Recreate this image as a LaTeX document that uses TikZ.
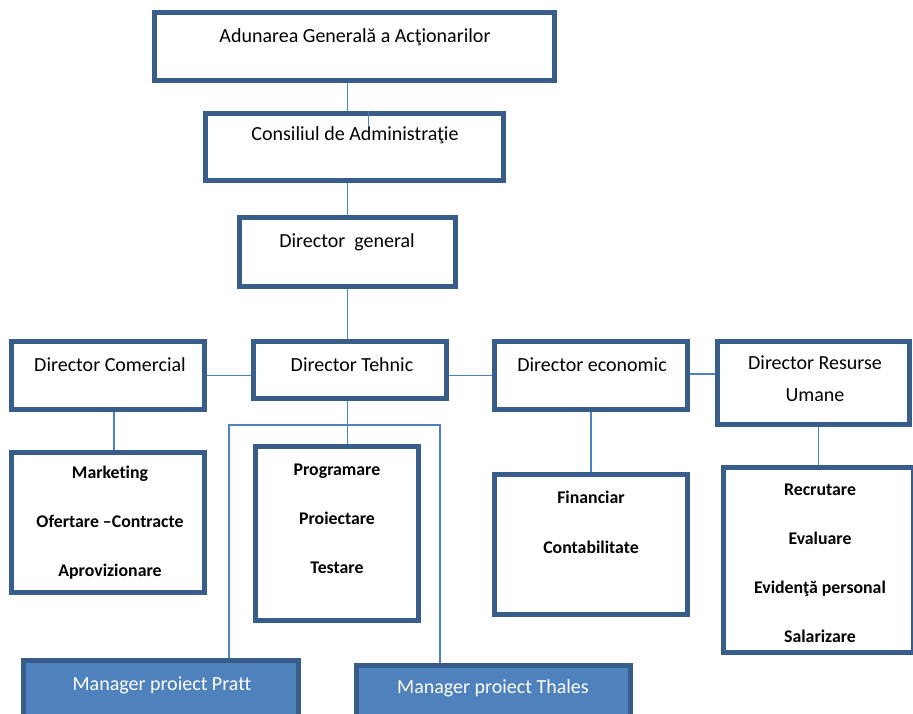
\documentclass[tikz,border=0pt]{standalone}
\usepackage{fontspec}
\setmainfont{Carlito}[Ligatures=CommonOff]
\usetikzlibrary{backgrounds}

\definecolor{frameblue}{RGB}{56,93,138}
\definecolor{lineblue}{RGB}{79,129,189}

\tikzset{
  unit/.style={draw=frameblue, line width=5pt, fill=white, inner sep=0pt},
  project/.style={unit, fill=lineblue},
  title/.style={font=\fontsize{20}{24}\selectfont, inner sep=0pt},
  tasks/.style={font=\fontsize{17.8}{49}\selectfont\bfseries, align=center, inner sep=0pt},
  link/.style={draw=lineblue, line width=1.8pt}
}

\begin{document}
\begin{tikzpicture}[x=1pt, y=-1pt]
  \clip (0,0) rectangle (913,714);
  \useasboundingbox (0,0) rectangle (913,714);

  % conducere
  \node[unit, minimum width=400, minimum height=68] (aga) at (354.5,46.5) {};
  \node[unit, minimum width=298, minimum height=67] (ca) at (354.5,147) {};
  \node[unit, minimum width=216, minimum height=69] (dg) at (347.5,252) {};
  \node[title] (aga-t) at (355,37) {Adunarea General\u{a} a Ac\c{t}ionarilor};
  \node[title] (ca-t) at (355,135) {Consiliul de Administra\c{t}ie};
  \node[title] (dg-t) at (347,242) {Director\ \ general};

  % directori
  \node[unit, minimum width=193, minimum height=68] (dcom) at (108,375.5) {};
  \node[unit, minimum width=193, minimum height=57] (dteh) at (350,370) {};
  \node[unit, minimum width=193, minimum height=68] (deco) at (591,375.5) {};
  \node[unit, minimum width=192, minimum height=83] (drum) at (813.5,383) {};
  \node[title] (dcom-t) at (110,365) {Director Comercial};
  \node[title] (dteh-t) at (352,365) {Director Tehnic};
  \node[title] (deco-t) at (592,365) {Director economic};
  \node[title, align=center, font=\fontsize{20}{32}\selectfont] (drum-t) at (815,379)
    {Director Resurse\\Umane};

  % compartimente
  \node[unit, minimum width=193, minimum height=140] (mkt) at (108,522.5) {};
  \node[unit, minimum width=163, minimum height=174] (prog) at (337,533.5) {};
  \node[unit, minimum width=193, minimum height=140] (fin) at (591,544.5) {};
  \node[unit, minimum width=190, minimum height=185] (rec) at (818.5,560) {};
  \node[tasks] (mkt-t) at (110,523) {Marketing\\Ofertare \textendash Contracte\\Aprovizionare};
  \node[tasks] (prog-t) at (337,519) {Programare\\Proiectare\\Testare};
  \node[tasks, font=\fontsize{17.8}{50}\selectfont\bfseries] (fin-t) at (591,522) {Financiar\\Contabilitate};
  \node[tasks] (rec-t) at (820,563.5) {Recrutare\\Evaluare\\Eviden\c{t}\u{a} personal\\Salarizare};

  % proiecte
  \node[project, minimum width=275, minimum height=67] (pratt) at (161,694) {};
  \node[project, minimum width=274, minimum height=67] (thales) at (493.5,699) {};
  \node[title, text=white] (pratt-t) at (162,685) {Manager proiect Pratt};
  \node[title, text=white] (thales-t) at (493,688) {Manager proiect Thales};

  \coordinate (brl) at (229,425);
  \coordinate (brr) at (440,425);

  \begin{pgfonlayer}{background}
    \draw[link] (aga.south -| dg) -- (ca.north -| dg);
    \draw[link] (ca.south -| dg) -- (dg.north);
    \draw[link] (dg.south) -- (dteh.north -| dg);
    \draw[link] (dcom.east) -- (dteh.west |- dcom.east);
    \draw[link] (dteh.east |- deco.west) -- (deco.west);
    \draw[link] (deco.east |- 0,374) -- (drum.west |- 0,374);
    \draw[link] ([xshift=6]dcom.south) -- ([xshift=6]mkt.north);
    \draw[link] (dteh.south -| dg) -- (prog.north -| dg);
    \draw[link] (deco.south -| fin) -- (fin.north);
    \draw[link] (drum.south -| rec) -- (rec.north);
  \end{pgfonlayer}
  \draw[link] (pratt.north -| brl) -- (brl) -- (brr) -- (thales.north -| brr);
  \draw[link] ([xshift=14]ca.north) -- ++(0,16);
\end{tikzpicture}
\end{document}
